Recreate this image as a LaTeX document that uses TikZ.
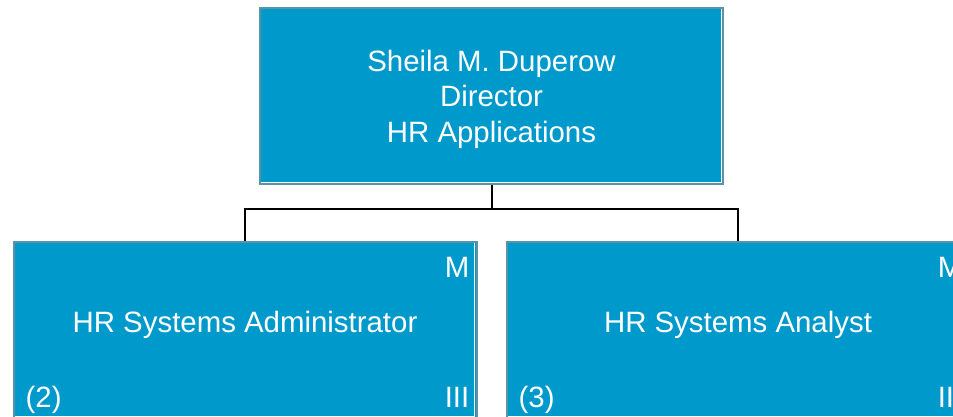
\documentclass[tikz,border=0pt]{standalone}
\usepackage{fontspec}
\setmainfont{Liberation Sans}
\usetikzlibrary{positioning}
\definecolor{postfill}{HTML}{0099CC}
\definecolor{postedge}{HTML}{5A92A7}
\begin{document}
\begin{tikzpicture}[x=1pt, y=-1pt,
		post/.style={draw=postedge, line width=2pt, fill=postfill, text=white,
			minimum width=463pt, minimum height=176pt, inner sep=0pt,
			font=\fontsize{29.4}{35.5}\selectfont, align=center,
			path picture={\draw[white, line width=1pt]
				([shift={(1pt,1.6pt)}]path picture bounding box.south west) --
				([shift={(-1.6pt,1.6pt)}]path picture bounding box.south east) --
				([shift={(-1.6pt,-1pt)}]path picture bounding box.north east);}},
		staff/.style={post, text height=21pt, text depth=16pt},
		tag/.style={text=white, inner sep=0pt, font=\fontsize{29.4}{35}\selectfont},
		level 1/.style={sibling distance=493pt},
		level distance=234pt,
		edge from parent/.style={draw, black, line width=2pt},
		edge from parent path={(\tikzparentnode.south) -- +(0pt,-24pt) -| (\tikzchildnode.north)},
		]
		\useasboundingbox (0,0) rectangle (953,416);
		\node [post] (dir) at (491.5,96) {\rule{0pt}{28pt}Sheila M. Duperow\\Director\\HR Applications}
		child { node [staff] (adm) {HR Systems Administrator} }
		child { node [staff] (ana) {HR Systems Analyst} };
		% grade and head count
		\node [tag, anchor=north east] (admM) at ([shift={(-8pt,-16pt)}]adm.north east) {M};
		\node [tag, anchor=base west] (admN) at ([shift={(13pt,12pt)}]adm.south west) {(2)};
		\node [tag, anchor=base east] (admG) at ([shift={(-8pt,12pt)}]adm.south east) {III};
		\node [tag, anchor=north east] (anaM) at ([shift={(-8pt,-16pt)}]ana.north east) {M};
		\node [tag, anchor=base west] (anaN) at ([shift={(13pt,12pt)}]ana.south west) {(3)};
		\node [tag, anchor=base east] (anaG) at ([shift={(-8pt,12pt)}]ana.south east) {III};
	\end{tikzpicture}
\end{document}
